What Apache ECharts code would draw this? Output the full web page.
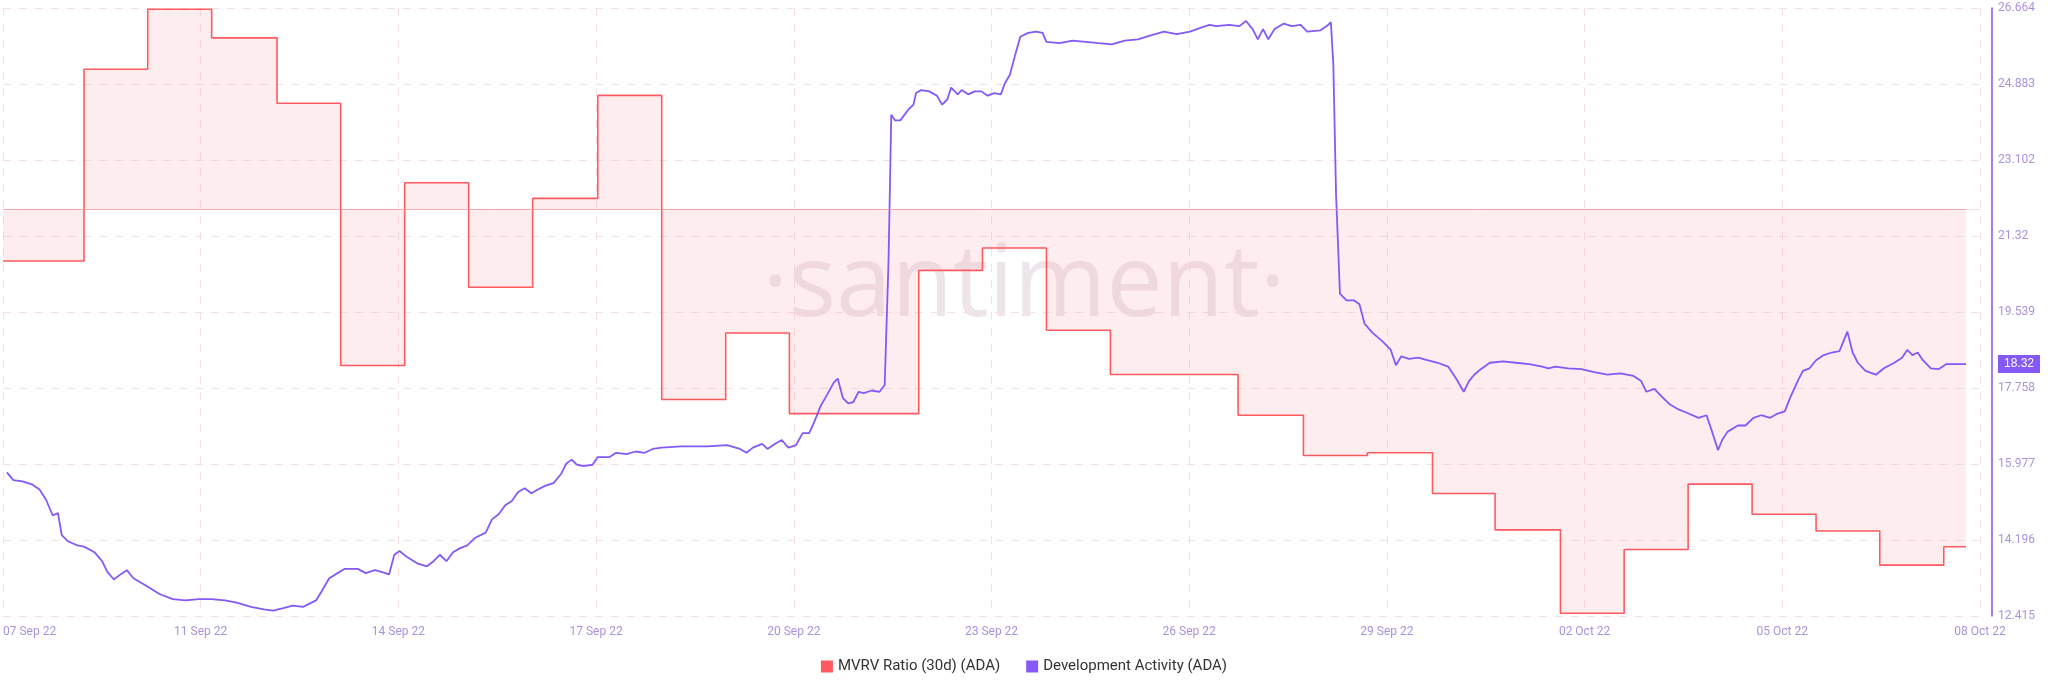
<!DOCTYPE html>
<html lang="en">
<head>
    <meta charset="UTF-8" />
    <title>MVRV vs Development Activity</title>
    <script src="https://cdn.jsdelivr.net/npm/echarts@6.0.0/dist/echarts.min.js"></script>
    <style>
        html, body { margin: 0; padding: 0; background: #fff; }
        #main { width: 2048px; height: 693px; }
    </style>
</head>
<body>
    <div id="main"></div>
    <script type="text/javascript">
        // x is hours since 08 Sep 22 00:00
        const xTickLabels = ["07 Sep 22", "11 Sep 22", "14 Sep 22", "17 Sep 22", "20 Sep 22", "23 Sep 22",
            "26 Sep 22", "29 Sep 22", "02 Oct 22", "05 Oct 22", "08 Oct 22"];
        const devTicks = [12.415, 14.196, 15.977, 17.758, 19.539, 21.32, 23.102, 24.883, 26.664];

        // MVRV Ratio (30d), step changes
        const mvrvHours = [0, 29.5, 52.7, 76, 99.8, 123, 146.3, 169.6, 192.9, 216.6, 239.9, 263.2, 286.4, 309.7,
            333.5, 356.7, 380, 403.3, 426.6, 449.8, 473.6, 496.9, 520.6, 543.4, 567.2, 590.4, 613.7, 637, 660.3,
            683.5, 706.8, 714.9];
        const mvrvValues = [-1.33, 3.57, 5.1, 4.37, 2.7, -4.0, 0.67, -2.0, 0.27, 2.9, -4.87, -3.17, -5.23, -5.23,
            -1.57, -1.0, -3.1, -4.23, -4.23, -5.27, -6.3, -6.23, -7.27, -8.2, -10.33, -8.7, -7.03, -7.8, -8.23,
            -9.1, -8.63, -8.63];

        // Development Activity
        const devHours = [1.4, 3.8, 7.1, 10.5, 13.3, 15.7, 18.1, 20, 21.4, 23.8, 27.1, 29.5, 33.3, 36.1, 38, 40.4,
            42.8, 45.1, 47.5, 52.3, 57, 61.8, 66.5, 71.3, 76, 80.8, 85.5, 90.3, 95, 98.3, 102.1, 105.5, 109.3, 114,
            116.4, 118.8, 121.1, 124.5, 129.2, 132.1, 135.4, 137.8, 140.6, 142.5, 144.4, 147.3, 151.1, 154.4, 156.8,
            159.1, 161.5, 163.9, 166.3, 169.1, 172, 175.8, 178.1, 180.5, 182.9, 185.3, 187.6, 190, 192.4, 194.8,
            197.6, 200.5, 203.3, 205.2, 207.1, 209, 211.4, 214.7, 216.6, 220.9, 223.3, 227.1, 230.4, 233.7, 236.6,
            239.9, 247, 256.5, 263.6, 268.4, 270.8, 273.1, 276.5, 278.4, 281.2, 283.6, 286, 288.8, 291.2, 293.6,
            295.5, 297.8, 300.2, 302.6, 304, 305.9, 307.8, 309.7, 311.6, 313.5, 316.4, 319.2, 321.1, 322.5, 323.5,
            324.9, 326.8, 329.7, 331.6, 332.5, 334.4, 337.3, 340.1, 342, 343.9, 345.3, 347.7, 349.1, 351.5, 353.9,
            356.3, 358.6, 361, 363.4, 364.8, 366.7, 368.6, 370.5, 373.4, 376.2, 378.6, 380, 384.8, 389.5, 394.3,
            399, 403.8, 408.5, 413.3, 418, 422.8, 427.5, 432.3, 436.1, 439.4, 441.8, 446.5, 450.3, 452.7, 455.1,
            457, 458.9, 460.8, 463.1, 466.5, 469.3, 472.6, 475, 479.8, 482.1, 483.6, 484.5, 485.5, 486.9, 489.3,
            492.1, 494, 495.9, 498.8, 502.6, 505.4, 507.3, 509.2, 512.1, 515.4, 518.7, 522.5, 526.3, 529.2, 532,
            533.9, 535.8, 538.2, 541.5, 546.3, 551, 555.8, 560.5, 562.9, 565.3, 570, 574.8, 579.5, 584.3, 589,
            593.8, 596.6, 598.5, 601.4, 604.2, 607.1, 610.4, 612.8, 617.5, 620.4, 622.3, 624.6, 626.1, 628, 631.8,
            634.6, 637.5, 640.3, 643.6, 646, 648.9, 650.8, 653.6, 655.5, 657.9, 660.3, 663.1, 666, 668.8, 670.2,
            671.7, 673.6, 675.5, 678.3, 682.1, 685, 688.8, 691.6, 693.5, 695.4, 697.3, 699.2, 702.1, 704.9, 707.8,
            712.5, 714.9];
        const devValues = [15.78, 15.60, 15.57, 15.50, 15.38, 15.14, 14.77, 14.83, 14.31, 14.16, 14.07, 14.04,
            13.91, 13.70, 13.45, 13.27, 13.39, 13.49, 13.30, 13.12, 12.93, 12.81, 12.78, 12.81, 12.81, 12.78, 12.72,
            12.63, 12.57, 12.54, 12.60, 12.66, 12.63, 12.78, 13.03, 13.30, 13.39, 13.52, 13.52, 13.42, 13.49, 13.45,
            13.39, 13.85, 13.94, 13.79, 13.64, 13.58, 13.70, 13.85, 13.70, 13.91, 14.00, 14.07, 14.25, 14.37, 14.68,
            14.80, 15.01, 15.11, 15.32, 15.41, 15.29, 15.38, 15.47, 15.53, 15.75, 15.99, 16.08, 15.96, 15.93, 15.96,
            16.14, 16.14, 16.24, 16.21, 16.27, 16.24, 16.33, 16.36, 16.39, 16.39, 16.42, 16.33, 16.24, 16.36, 16.45,
            16.33, 16.45, 16.54, 16.36, 16.42, 16.70, 16.70, 16.97, 17.34, 17.61, 17.89, 17.98, 17.52, 17.40, 17.43,
            17.67, 17.64, 17.70, 17.67, 17.83, 20.73, 24.16, 24.03, 24.03, 24.28, 24.40, 24.67, 24.74, 24.71, 24.61,
            24.40, 24.52, 24.80, 24.64, 24.74, 24.64, 24.71, 24.71, 24.61, 24.67, 24.64, 24.89, 25.10, 25.56, 25.99,
            26.08, 26.11, 26.08, 25.87, 25.84, 25.90, 25.87, 25.84, 25.81, 25.90, 25.93, 26.02, 26.11, 26.05, 26.11,
            26.20, 26.27, 26.24, 26.27, 26.24, 26.36, 26.17, 25.93, 26.17, 25.93, 26.17, 26.30, 26.24, 26.27, 26.11,
            26.14, 26.24, 26.33, 25.32, 22.26, 19.97, 19.81, 19.81, 19.72, 19.26, 19.05, 18.84, 18.65, 18.29, 18.50,
            18.44, 18.47, 18.41, 18.35, 18.26, 17.98, 17.67, 17.92, 18.07, 18.20, 18.35, 18.38, 18.35, 18.32, 18.26,
            18.22, 18.26, 18.22, 18.20, 18.13, 18.07, 18.10, 18.04, 17.92, 17.67, 17.74, 17.55, 17.37, 17.25, 17.19,
            17.06, 17.12, 16.76, 16.30, 16.54, 16.73, 16.88, 16.88, 17.06, 17.12, 17.06, 17.15, 17.21, 17.52, 17.92,
            18.16, 18.22, 18.41, 18.53, 18.59, 18.62, 18.84, 19.08, 18.59, 18.35, 18.16, 18.07, 18.22, 18.35, 18.47,
            18.65, 18.53, 18.59, 18.41, 18.22, 18.20, 18.32, 18.32, 18.32];

        const mvrvData = mvrvHours.map((h, i) => [h, mvrvValues[i]]);
        const devData = devHours.map((h, i) => [h, devValues[i]]);

        const labelColor = "#a992dc";
        const gridColor = "#f5dfe3";
        const purple = "#8459f7";

        let myChart = echarts.init(document.getElementById("main"));
        let options = {
            animation: false,
            grid: { left: 0, right: 68, top: 8, bottom: 77 },
            graphic: [{
                type: "text", left: "center", top: 238, silent: true, z: 0,
                style: { text: "·santiment·", font: "100px 'Open Sans', sans-serif", fill: "rgba(205,180,195,0.35)" }
            }],
            legend: {
                bottom: 14, left: "center", itemWidth: 12, itemHeight: 12, itemGap: 26, icon: "rect",
                textStyle: { color: "#333", fontSize: 15, fontFamily: "Roboto, sans-serif" },
                data: ["MVRV Ratio (30d) (ADA)", "Development Activity (ADA)"]
            },
            xAxis: {
                type: "value", min: 0, max: 720, interval: 72,
                axisLine: { show: true, lineStyle: { color: gridColor } },
                axisTick: { show: false },
                splitLine: { show: true, lineStyle: { color: gridColor, type: [8, 8] } },
                axisLabel: {
                    color: labelColor, fontSize: 12, fontFamily: "Roboto, sans-serif", margin: 10,
                    formatter: (v) => xTickLabels[Math.round(v / 72)],
                    alignMinLabel: "left"
                }
            },
            yAxis: [{
                type: "value", min: -10.4, max: 5.133, show: false,
                splitLine: { show: false }
            }, {
                type: "value", position: "right", offset: 12, min: 12.415, max: 26.664,
                axisLine: { show: true, lineStyle: { color: purple, width: 1.5 } },
                axisTick: { show: false, customValues: devTicks },
                splitLine: { show: true, lineStyle: { color: gridColor, type: [8, 8] } },
                axisLabel: {
                    color: labelColor, fontSize: 12, fontFamily: "Roboto, sans-serif", margin: 6,
                    customValues: devTicks, formatter: (v) => String(v)
                }
            }],
            series: [{
                name: "MVRV Ratio (30d) (ADA)", type: "line", yAxisIndex: 0, step: "end",
                data: mvrvData, symbol: "none",
                lineStyle: { color: "#ff5a5f", width: 1.6 },
                itemStyle: { color: "#ff5a5f" },
                areaStyle: { color: "rgba(244,160,170,0.27)" },
                markLine: {
                    silent: true, symbol: "none", label: { show: false },
                    lineStyle: { color: "rgba(245,150,160,0.7)", type: "solid", width: 1 },
                    data: [[{ coord: [0, 0] }, { coord: [714.9, 0] }]]
                }
            }, {
                name: "Development Activity (ADA)", type: "line", yAxisIndex: 1,
                data: devData, symbol: "none", z: 3,
                lineStyle: { color: purple, width: 1.8 },
                itemStyle: { color: purple },
                markLine: {
                    silent: true, symbol: "none",
                    lineStyle: { color: "transparent", width: 0 },
                    label: {
                        show: true, position: "end", distance: 18, formatter: "18.32",
                        color: "#fff", backgroundColor: purple, padding: [3, 6], fontSize: 12
                    },
                    data: [{ yAxis: 18.32 }]
                }
            }]
        };
        myChart.setOption(options);
    </script>
</body>
</html>
